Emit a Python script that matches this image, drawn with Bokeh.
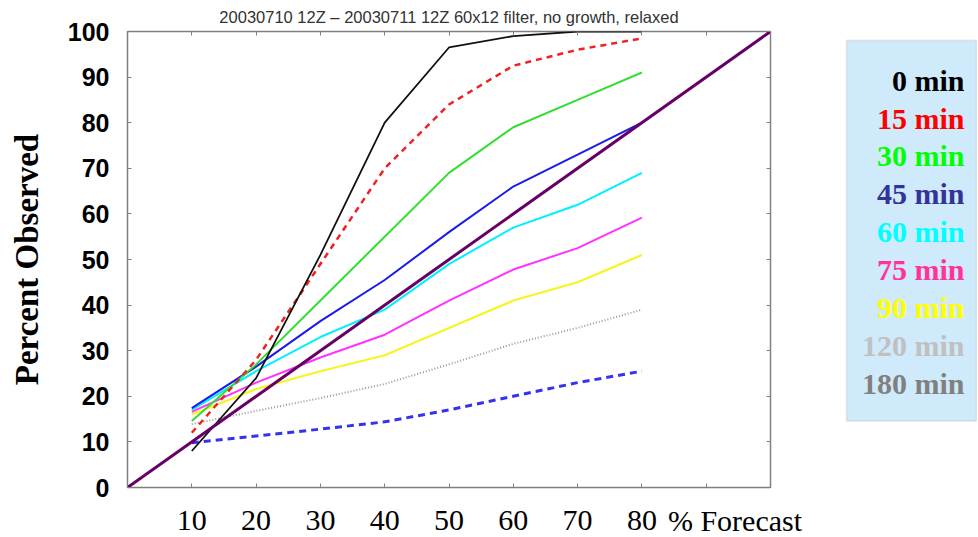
from bokeh.plotting import figure
from bokeh.models import Range1d, LinearAxis, FixedTicker, BoxAnnotation, ColumnDataSource, GridBox
from bokeh.core.properties import value
from bokeh.embed import file_html
from bokeh.resources import INLINE

# ---------------- data ----------------
title_text = "20030710 12Z \u2013 20030711 12Z 60x12 filter, no growth, relaxed"
y_title = "Percent Observed"
x_forecast = [10, 20, 30, 40, 50, 60, 70, 80]

obs_0min = [8, 24, 51, 80, 96.5, 99, 100, 100]
obs_15min = [12, 28, 49, 70, 84, 92.5, 96, 98.5]
obs_30min = [14.6, 27, 41, 55, 69, 79, 85, 91]
obs_45min = [17.4, 26.5, 36.5, 45.5, 56, 66, 73, 80]
obs_60min = [17, 25.5, 33, 39, 49, 57, 62, 69]
obs_75min = [16.6, 23, 28.5, 33.5, 41, 47.8, 52.5, 59.2]
obs_90min = [16, 21.6, 25.5, 29, 35, 41, 45, 51]
obs_120min = [13.9, 16.8, 19.6, 22.7, 27, 31.5, 35, 39]
obs_180min = [9.8, 11.3, 12.8, 14.4, 17, 20, 23, 25.5]

diag_x = [0, 100]
diag_y = [0, 100]

axis_ticks = [0, 10, 20, 30, 40, 50, 60, 70, 80, 90, 100]
x_label_vals = [10, 20, 30, 40, 50, 60, 70, 80]
x_label_text = ["10", "20", "30", "40", "50", "60", "70", "80"]
x_unit_text = "% Forecast"

legend_labels = ["0 min", "15 min", "30 min", "45 min", "60 min",
                 "75 min", "90 min", "120 min", "180 min"]
legend_colors = ["#000000", "#ff0000", "#00ff00", "#333399", "#00ffff",
                 "#ff3399", "#ffff00", "#c0c0c0", "#808080"]
legend_rows = [0, 1, 2, 3, 4, 5, 6, 7, 8]

# ---------------- main plot ----------------
p = figure(width=845, height=503, x_range=Range1d(0, 100), y_range=Range1d(0, 100),
           output_backend="svg", toolbar_location=None,
           min_border_left=127, min_border_right=75,
           min_border_top=28, min_border_bottom=16,
           x_axis_location=None, y_axis_location=None)
p.xgrid.visible = False
p.ygrid.visible = False
p.outline_line_color = "#808080"
p.outline_line_width = 1.5
p.background_fill_color = "white"
p.border_fill_color = "white"

p.title.text = title_text
p.title.align = "center"
p.title.text_font = "Liberation Sans"
p.title.text_font_style = "normal"
p.title.text_font_size = "16.5px"
p.title.text_color = "#333333"
p.title.standoff = 11


def tick_axis(show_labels=False):
    ax = LinearAxis(ticker=FixedTicker(ticks=axis_ticks))
    ax.axis_line_color = None
    ax.major_tick_in = 4
    ax.major_tick_out = 0
    ax.minor_tick_line_color = None
    ax.major_tick_line_color = "#808080"
    if not show_labels:
        ax.major_label_overrides = {t: "" for t in axis_ticks}
        ax.major_label_standoff = 0
    return ax


left_ax = tick_axis(True)
left_ax.major_label_text_font = "Liberation Sans"
left_ax.major_label_text_font_style = "bold"
left_ax.major_label_text_font_size = "25px"
left_ax.major_label_text_color = "black"
left_ax.major_label_standoff = 18
left_ax.axis_label = y_title
left_ax.axis_label_text_font = "Liberation Serif"
left_ax.axis_label_text_font_style = "bold"
left_ax.axis_label_text_font_size = "33px"
left_ax.axis_label_text_color = "black"
left_ax.axis_label_standoff = 20
p.add_layout(left_ax, "left")
p.add_layout(tick_axis(), "below")
p.add_layout(tick_axis(), "above")
p.add_layout(tick_axis(), "right")

p.line(x_forecast, obs_180min, line_color="#3333ee", line_width=3, line_dash="7 5")
p.line(x_forecast, obs_120min, line_color="#999999", line_width=2, line_dash="1 2")
p.line(x_forecast, obs_90min, line_color="#f5f522", line_width=2.2)
p.line(x_forecast, obs_75min, line_color="#ff33ff", line_width=2)
p.line(x_forecast, obs_60min, line_color="#00f0ff", line_width=2)
p.line(x_forecast, obs_45min, line_color="#1a1aee", line_width=2)
p.line(x_forecast, obs_30min, line_color="#33dd33", line_width=2)
p.line(x_forecast, obs_15min, line_color="#ee2222", line_width=2.5, line_dash="6 5")
p.line(x_forecast, obs_0min, line_color="#111111", line_width=1.8)
p.line(diag_x, diag_y, line_color="#660066", line_width=3)

# ---------------- legend panel ----------------
p2 = figure(width=132, height=503, x_range=Range1d(0, 132), y_range=Range1d(10.754, -1.285),
            output_backend="svg", toolbar_location=None,
            min_border_left=0, min_border_right=0,
            min_border_top=28, min_border_bottom=16,
            x_axis_location=None, y_axis_location=None)
p2.xgrid.visible = False
p2.ygrid.visible = False
p2.outline_line_color = None
p2.background_fill_color = "white"
p2.border_fill_color = "white"
p2.add_layout(BoxAnnotation(left=1, right=131, top=-1.05, bottom=9.0,
                            fill_color="#cfeafb", fill_alpha=1.0,
                            line_color="#bbbbbb", line_width=2, level="underlay"))
leg_src = ColumnDataSource(dict(y=legend_rows, t=legend_labels, c=legend_colors))
p2.text(x=119, y="y", text="t", text_color="c", source=leg_src,
        text_align="right", text_baseline="middle",
        text_font=value("Liberation Serif"), text_font_style="bold",
        text_font_size="30px")

# ---------------- x tick-label strip (same scale as the main x axis) ----------------
strip_w = 977
strip_frame_px = strip_w - 127
main_frame_px = 845 - 127 - 75
p3 = figure(width=strip_w, height=33,
            x_range=Range1d(0, 100 * strip_frame_px / main_frame_px), y_range=Range1d(0, 1),
            output_backend="svg", toolbar_location=None,
            min_border_left=127, min_border_right=0,
            min_border_top=0, min_border_bottom=0,
            x_axis_location=None, y_axis_location=None)
p3.xgrid.visible = False
p3.ygrid.visible = False
p3.outline_line_color = None
p3.border_fill_color = "white"
lab_src = ColumnDataSource(dict(x=x_label_vals, y=[0.48] * len(x_label_vals), t=x_label_text))
p3.text(x="x", y="y", text="t", source=lab_src, text_align="center",
        text_baseline="middle", text_font=value("Liberation Serif"),
        text_font_size="30px", text_color="black")
p3.text(x=[x_label_vals[-1]], y=[0.48], text=[x_unit_text], x_offset=26,
        text_align="left", text_baseline="middle",
        text_font=value("Liberation Serif"), text_font_size="30px", text_color="black")

layout = GridBox(children=[(p, 0, 0), (p2, 0, 1), (p3, 1, 0, 1, 2)])
open("out.html", "w").write(file_html(layout, INLINE))
